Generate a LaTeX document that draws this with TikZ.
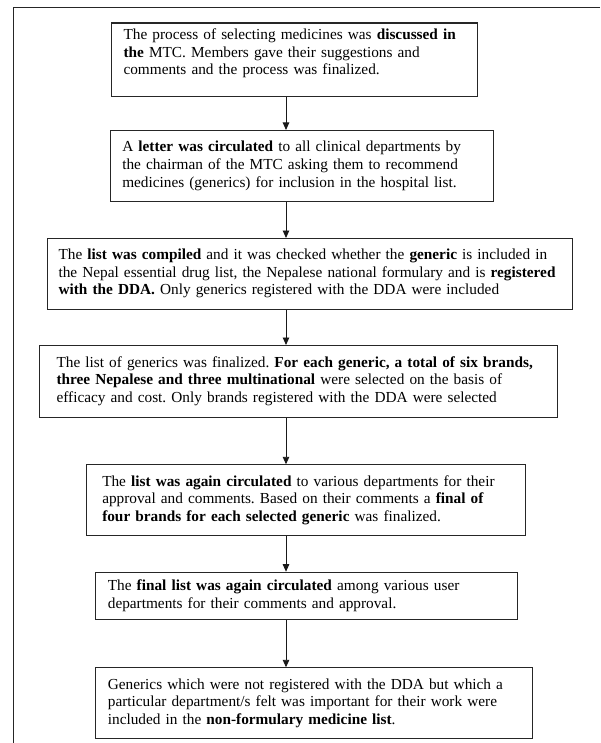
\documentclass[tikz,border=0pt]{standalone}
\usepackage{fontspec}
\setmainfont{Liberation Serif}
\usetikzlibrary{arrows.meta}
\newcommand{\steplines}[1]{\begin{tabular}{@{}l@{}}#1\end{tabular}}
\frenchspacing

\begin{document}
\begin{tikzpicture}[x=1pt,y=1pt,
  stepbox/.style={draw=black!85, line width=1.1pt, anchor=north west, align=left,
    font=\fontsize{15.3}{17.6}\selectfont, inner ysep=0pt},
  flow/.style={draw=black!90, line width=0.9pt, -{Triangle[width=6.5pt,length=7.5pt]}}]
\useasboundingbox (0,0) rectangle (600,-743);
% page frame
\draw[line width=1.3pt, black!85] (600,-7.7) -| (13.3,-743);
\coordinate (axis) at (286,0);
% steps, top to bottom
\node[stepbox, inner xsep=12.5pt, text width=341.5pt, minimum height=73.5pt] (s1) at (110.5,-22.5)
  {\steplines{The process of selecting medicines was \textbf{discussed in}\\
   \textbf{the} MTC. Members gave their suggestions and\\
   comments and the process was finalized.\\[12pt]}};
\node[stepbox, inner xsep=11.7pt, text width=359.6pt, minimum height=71pt] (s2) at (110,-130)
  {\steplines{A \textbf{letter was circulated} to all clinical departments by\\
   the chairman of the MTC asking them to recommend\\
   medicines (generics) for inclusion in the hospital list.}};
\node[stepbox, inner xsep=11pt, text width=503pt, minimum height=70.5pt] (s3) at (47,-238)
  {\steplines{The \textbf{list was compiled} and it was checked whether the \textbf{generic} is included in\\
   the Nepal essential drug list, the Nepalese national formulary and is \textbf{registered}\\
   \textbf{with the DDA.} Only generics registered with the DDA were included}};
\node[stepbox, inner xsep=17pt, text width=484pt, minimum height=71.7pt] (s4) at (39,-345)
  {\steplines{The list of generics was finalized. \textbf{For each generic, a total of six brands,}\\
   \textbf{three Nepalese and three multinational} were selected on the basis of\\
   efficacy and cost. Only brands registered with the DDA were selected}};
\node[stepbox, inner xsep=15.7pt, text width=407.6pt, minimum height=70.7pt] (s5) at (86,-464.3)
  {\steplines{The \textbf{list was again circulated} to various departments for their\\
   approval and comments. Based on their comments a \textbf{final of}\\
   \textbf{four brands for each selected generic} was finalized.}};
\node[stepbox, inner xsep=12.3pt, text width=397.1pt, minimum height=47.6pt] (s6) at (95,-571.7)
  {\steplines{The \textbf{final list was again circulated} among various user\\
   departments for their comments and approval.}};
\node[stepbox, inner xsep=12.3pt, text width=412.4pt, minimum height=71pt] (s7) at (95,-667.3)
  {\steplines{Generics which were not registered with the DDA but which a\\
   particular department/s felt was important for their work were\\
   included in the \textbf{non-formulary medicine list}.}};
% arrows
\draw[flow] (axis |- s1.south) -- (axis |- s2.north);
\draw[flow] (axis |- s2.south) -- (axis |- s3.north);
\draw[flow] (axis |- s3.south) -- (axis |- s4.north);
\draw[flow] (axis |- s4.south) -- (axis |- s5.north);
\draw[flow] (axis |- s5.south) -- (axis |- s6.north);
\draw[flow] (axis |- s6.south) -- (axis |- s7.north);
\end{tikzpicture}
\end{document}
